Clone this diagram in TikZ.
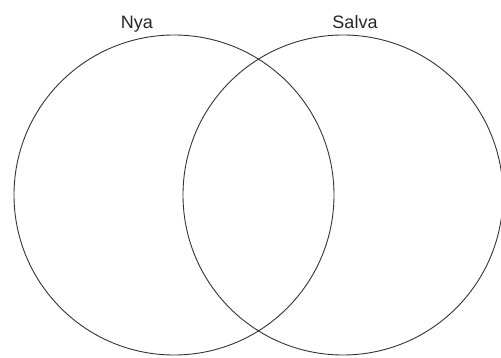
\documentclass[tikz,border=0pt]{standalone}
\usepackage{fontspec}
\setmainfont{Liberation Sans}
\begin{document}
\begin{tikzpicture}[x=1pt,y=-1pt,
  setcircle/.style={draw=black!80, line width=0.9pt},
  setlabel/.style={font=\fontsize{18}{20}\selectfont, text=black!85, anchor=base, inner sep=0pt}]
\useasboundingbox (0,0) rectangle (501,358);
\draw[setcircle] (174,195) circle[radius=160];
\draw[setcircle] (343,195) circle[radius=160];
\node[setlabel] (nya) at (137,29) {Nya};
\node[setlabel] (salva) at (355,29) {Salva};
\end{tikzpicture}
\end{document}
